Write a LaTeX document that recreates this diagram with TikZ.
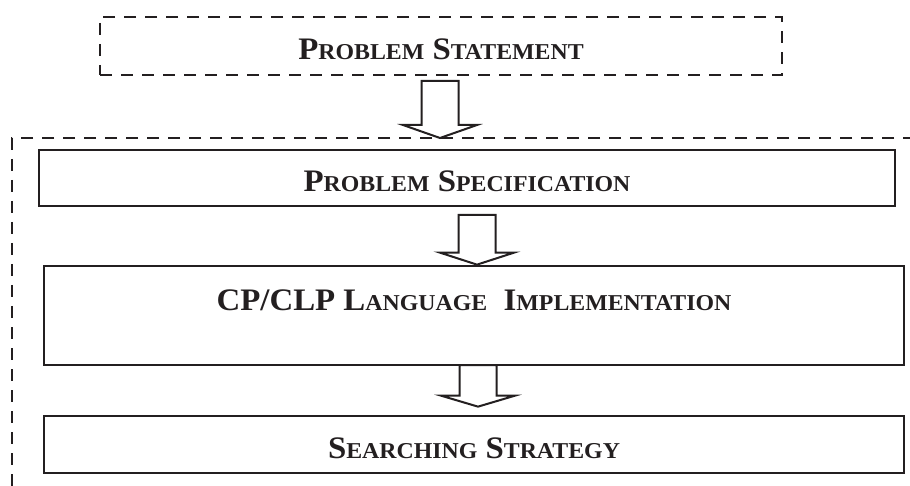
\documentclass[tikz,border=0pt]{standalone}
\usepackage{fontspec}
\setmainfont[FakeStretch=1.05]{Liberation Serif}
\usetikzlibrary{calc}

\definecolor{ink}{HTML}{231F20}

% big first letter, small caps for the rest
\newcommand{\capw}[2]{#1{\fontsize{22.7}{24}\selectfont #2}}
% hollow block arrow from #1 down to the tip #2, head length #3
\newcommand{\hollowarrow}[3]{%
  \draw[hollow] let \p1=(#1), \p2=(#2) in
    (\x1-18.5pt,\y1) -- (\x1-18.5pt,\y2+#3pt) -- (\x1-37pt,\y2+#3pt) -- (\x1,\y2)
    -- (\x1+37pt,\y2+#3pt) -- (\x1+18.5pt,\y2+#3pt) -- (\x1+18.5pt,\y1) -- cycle;}

\tikzset{
  box/.style={draw=ink, line width=2.7pt, inner sep=0pt, minimum height=56pt,
    text height=28pt, text depth=0pt, text=ink,
    font=\bfseries\fontsize{31.3}{34}\selectfont},
  dashbox/.style={box, line width=2.5pt, dash pattern=on 12pt off 9pt},
  frame/.style={draw=ink, line width=2.5pt, dash pattern=on 12pt off 9pt},
  hollow/.style={draw=ink, fill=white, line width=2pt, line join=miter},
}

\begin{document}
\begin{tikzpicture}[x=1pt,y=-1pt]
\useasboundingbox (0,0) rectangle (910,486);
\clip (0,0) rectangle (910,486);

\node[dashbox, minimum width=682pt, minimum height=58pt] (ps) at (441,46)
  {\capw{P}{ROBLEM} \capw{S}{TATEMENT}};
\node[box, minimum width=856pt] (spec) at (467,178)
  {\capw{P}{ROBLEM} \capw{S}{PECIFICATION}};
\node[box, minimum width=860pt, minimum height=99pt, text height=22pt, text depth=33pt] (cp) at (474,315.5)
  {CP/CLP \capw{L}{ANGUAGE}\ \ \capw{I}{MPLEMENTATION}};
\node[box, minimum width=860pt, minimum height=57pt] (ss) at (474,444.5)
  {\capw{S}{EARCHING} \capw{S}{TRATEGY}};

% outer frame, cut by the page
\coordinate (fr) at (12,138);
\draw[frame] (915,138) -- (fr) -- (12,492);

\coordinate (a1) at (440,81);
\coordinate (a2) at (477,215);
\coordinate (a3) at (478,365);
\hollowarrow{a1}{a1 |- fr}{13}
\hollowarrow{a2}{a2 |- cp.north}{12}
\hollowarrow{a3}{$(a3 |- ss.north)+(0,-8)$}{11}
\end{tikzpicture}
\end{document}
